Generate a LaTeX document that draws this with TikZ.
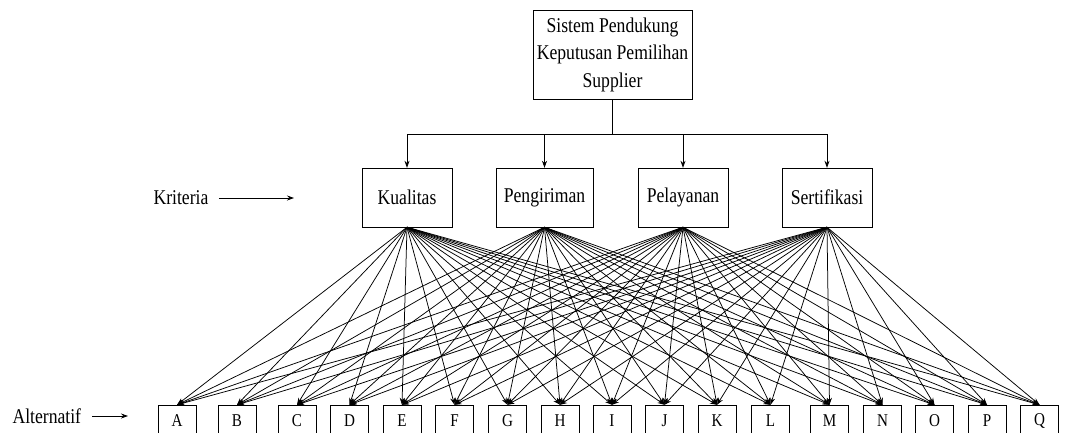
\documentclass[tikz,border=0pt]{standalone}
\usepackage{fontspec}
\setmainfont{Liberation Serif}[FakeStretch=0.84]
\usetikzlibrary{arrows.meta,calc}
\tikzset{
  ahp goal/.style={
    draw,
    minimum width=159pt,
    minimum height=89pt,
    inner sep=2pt,
    align=center,
    font=\fontsize{21}{27.5}\selectfont,
  },
  ahp criterion/.style={
    draw,
    minimum width=90pt,
    minimum height=59pt,
    inner xsep=8pt,
    font=\fontsize{21}{24}\selectfont,
  },
  ahp alternative/.style={
    draw,
    minimum width=38pt,
    minimum height=32pt,
    inner sep=2pt,
    font=\fontsize{18}{20}\selectfont,
  },
  ahp label/.style={font=\fontsize{21}{24}\selectfont},
  ahp arrow/.style={-{Stealth[length=7pt,width=5pt]}, line width=0.75pt},
  ahp line/.style={line width=0.75pt},
}

\begin{document}
\begin{tikzpicture}[x=1pt,y=-1pt]
  \useasboundingbox (0,0) rectangle (1078,432);

  % goal
  \node[ahp goal] (goal) at (612.5,54.5) {Sistem Pendukung\\Keputusan Pemilihan\\Supplier};

  % criteria
  \foreach \i/\x/\txt in {1/407/Kualitas, 2/544.5/Pengiriman, 3/683/Pelayanan, 4/827/Sertifikasi}
    \node[ahp criterion] (crit\i) at (\x,197.5) {\txt};

  % alternatives
  \foreach \name/\x in {A/177, B/237, C/297, D/349.5, E/402, F/454.5, G/507.5, H/560, I/612,
                        J/664.5, K/717, L/770.5, M/829.5, N/882.5, O/934.5, P/987, Q/1039.5}
    \node[ahp alternative] (alt\name) at (\x,421) {\name};

  % side labels
  \node[ahp label] (kriteria) at (181,198) {Kriteria};
  \coordinate (kriteria end) at (294,198);
  \draw[ahp arrow] ([xshift=7pt]kriteria.east) -- (kriteria end);

  \node[ahp label, anchor=west] (alternatif) at (9,416) {Alternatif};
  \coordinate (alternatif end) at (128,416);
  \draw[ahp arrow] (alternatif.east -| 92,0) -- (alternatif end);

  % goal -> criteria
  \coordinate (bus) at ($(goal.south)+(0,35)$);
  \draw[ahp line] (goal.south) -- (bus);
  \draw[ahp line] (bus -| crit1.north) -- (bus -| crit4.north);
  \foreach \i in {1,...,4}
    \draw[ahp arrow] (bus -| crit\i.north) -- (crit\i.north);

  % criteria -> alternatives
  \foreach \i in {1,...,4}
    \foreach \name in {A,...,Q}
      \draw[ahp arrow] (crit\i.south) -- (alt\name.north);
\end{tikzpicture}
\end{document}
